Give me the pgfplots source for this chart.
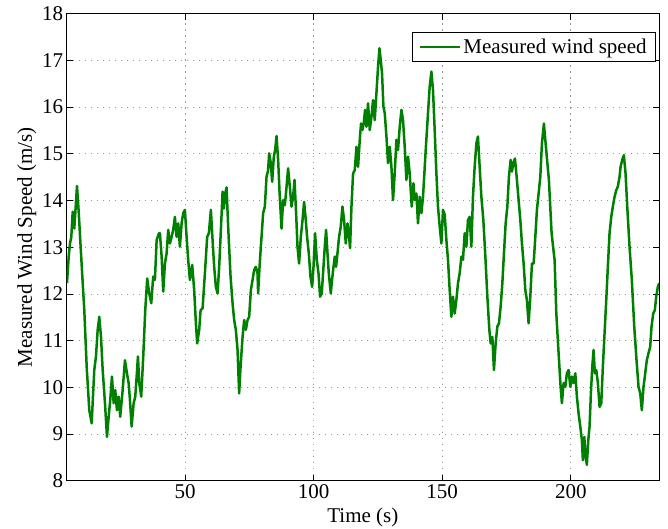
\documentclass[border=0pt]{standalone}
\usepackage{fontspec}
\setmainfont{Liberation Serif}
\usepackage{pgfplots}
\pgfplotsset{compat=1.18}
\definecolor{mgreen}{rgb}{0,0.5,0}
\begin{document}
\begin{tikzpicture}
\useasboundingbox (-66.7pt,-47.3pt) rectangle (601.3pt,480.7pt);
\begin{axis}[
  at={(0,0)}, anchor=south west,
  scale only axis, width=592.3pt, height=467pt,
  xmin=4, xmax=234.3, ymin=8, ymax=18,
  xtick={50,100,150,200}, ytick={8,9,...,18},
  tick align=inside, tick pos=both,
  major tick length=6pt,
  grid=major,
  major grid style={dash pattern=on 1.2pt off 4.8pt, gray!80, line width=0.7pt},
  axis line style={black, line width=0.8pt},
  every tick/.style={black, line width=0.6pt},
  font=\fontsize{21}{25}\selectfont,
  /pgf/number format/assume math mode=true,
  xlabel={Time (s)}, ylabel={Measured Wind Speed (m/s)},
  xlabel style={yshift=-3pt},
  ylabel style={yshift=-1pt},
  legend image code/.code={\draw[#1] (0pt,0pt) -- (40pt,0pt);},
  legend style={at={([xshift=-3pt,yshift=-18.6pt]rel axis cs:1,1)}, anchor=north east,
    draw=black, line width=0.8pt, inner xsep=7pt, inner ysep=4.5pt, font=\fontsize{21}{25}\selectfont,
    cells={anchor=west}},
  legend cell align=left,
]
\addplot[mgreen, line width=2.5pt, line join=round] coordinates {
(4.12,12.23)(4.78,12.8)(5.28,13.08)(5.79,13.22)(6.33,13.76)(6.95,13.4)(7.34,13.73)(8.0,14.31)(8.66,13.76)(9.56,12.87)
(10.84,11.65)(11.77,10.44)(12.78,9.51)(13.71,9.23)(14.72,10.37)(15.38,10.66)(16.04,11.23)(16.67,11.51)(17.33,11.08)(17.99,10.37)
(18.88,9.66)(19.66,8.94)(20.32,9.37)(20.94,9.73)(21.6,10.23)(22.26,9.66)(22.88,9.94)(23.54,9.51)(24.2,9.8)(24.82,9.37)
(25.76,9.94)(26.65,10.58)(27.43,10.3)(28.09,10.09)(28.59,9.73)(29.25,9.16)(30.03,9.66)(30.65,9.8)(31.2,10.23)(31.7,10.66)
(32.21,10.09)(32.98,9.8)(33.76,10.66)(34.54,11.65)(35.31,12.33)(36.09,12.01)(36.87,11.8)(37.64,12.37)(38.3,12.3)(38.97,13.15)
(39.86,13.3)(40.25,13.3)(40.91,12.8)(41.53,12.05)(42.19,12.65)(42.85,12.87)(43.47,13.37)(44.13,13.08)(44.79,13.22)(45.41,13.37)
(46.07,13.65)(46.73,13.22)(47.36,13.51)(48.02,13.01)(48.68,13.51)(49.3,13.73)(49.96,13.8)(50.62,13.22)(51.24,12.73)(51.9,12.3)
(52.8,12.62)(53.57,12.08)(54.23,11.37)(54.74,10.94)(55.52,11.23)(56.06,11.65)(56.84,11.69)(57.73,12.44)(58.62,13.22)(59.28,13.3)
(60.06,13.8)(60.72,13.15)(61.34,12.58)(62.0,12.15)(62.66,12.01)(63.28,12.58)(63.95,13.37)(64.61,14.19)(65.11,13.83)(65.62,14.15)
(66.16,14.28)(66.78,13.44)(67.71,12.37)(68.49,11.8)(69.11,11.44)(69.77,11.23)(70.43,10.8)(71.05,9.87)(71.6,10.44)(72.38,11.08)
(73.0,11.44)(73.66,11.23)(74.32,11.44)(74.94,11.51)(75.6,12.08)(76.26,12.3)(76.88,12.51)(77.54,12.58)(78.2,12.44)(78.43,12.01)
(78.98,12.58)(79.49,13.01)(80.38,13.73)(81.04,13.87)(81.7,14.51)(82.32,14.65)(82.71,15.01)(83.37,14.8)(83.88,14.4)(84.54,14.94)
(85.04,15.08)(85.59,15.38)(86.21,14.87)(86.75,14.19)(87.53,13.4)(88.15,14.01)(88.81,13.9)(89.32,14.19)(90.09,14.69)(90.75,14.3)
(91.41,13.87)(92.03,14.08)(92.58,14.44)(93.2,13.73)(93.74,13.01)(94.36,12.65)(95.03,13.22)(95.69,13.58)(96.31,13.97)(96.85,13.65)
(97.47,13.22)(98.13,12.87)(98.79,12.37)(99.42,12.15)(99.96,12.58)(100.58,13.3)(101.24,12.73)(101.9,12.44)(102.52,11.94)(103.18,12.01)
(103.84,12.58)(104.35,13.01)(104.85,13.37)(105.4,12.87)(105.9,12.44)(106.68,12.01)(107.18,12.3)(107.73,12.58)(108.23,12.8)(108.74,12.58)
(109.28,12.87)(109.9,13.22)(110.56,13.44)(111.22,13.87)(111.85,13.58)(112.51,13.08)(113.17,13.51)(113.67,13.3)(114.18,12.98)(114.72,13.87)
(115.35,14.58)(116.0,14.65)(116.67,15.15)(117.29,14.72)(117.95,15.3)(118.45,15.65)(119.0,15.51)(119.5,15.65)(120.0,15.94)(120.55,15.58)
(121.17,16.08)(121.83,15.51)(122.49,15.79)(123.11,16.15)(123.77,15.72)(124.43,16.3)(125.06,16.87)(125.6,17.26)(126.1,17.01)(126.61,16.72)
(127.15,16.01)(127.66,15.87)(128.32,15.37)(128.94,14.8)(129.6,15.15)(130.26,14.72)(130.88,14.01)(131.54,14.58)(132.2,15.3)(132.82,15.08)
(133.49,15.58)(134.15,15.94)(134.77,15.72)(135.43,15.15)(136.09,14.44)(136.71,14.94)(137.37,14.58)(138.15,13.87)(138.81,14.37)(139.31,14.01)
(139.97,14.15)(140.59,13.51)(141.26,14.08)(141.92,13.73)(142.54,14.08)(143.59,15.08)(144.48,15.87)(145.14,16.44)(145.8,16.76)(146.42,16.37)
(147.08,15.51)(147.74,14.58)(148.36,13.87)(149.03,13.44)(149.69,13.08)(150.31,13.8)(150.97,13.7)(151.63,13.15)(152.25,12.73)(152.91,12.08)
(153.57,11.51)(154.19,11.94)(154.85,11.58)(155.51,11.87)(156.14,12.23)(156.8,12.44)(157.46,12.8)(158.08,12.73)(158.74,13.3)(159.4,13.01)
(160.02,13.58)(160.68,13.65)(161.34,13.01)(161.96,14.08)(162.62,14.72)(163.28,15.22)(163.9,15.37)(164.57,14.72)(165.23,14.08)(166.0,13.58)
(166.78,12.8)(167.56,11.94)(168.33,11.23)(168.84,10.94)(169.5,11.08)(170.12,10.37)(170.78,10.94)(171.44,11.3)(172.07,11.37)(172.73,11.73)
(173.39,12.23)(174.01,12.87)(174.67,13.51)(175.33,13.87)(175.95,14.51)(176.61,14.87)(177.12,14.62)(177.66,14.8)(178.28,14.9)(178.94,14.51)
(179.6,14.08)(180.38,13.58)(181.0,13.08)(181.66,12.65)(182.32,12.08)(182.94,11.87)(183.6,11.37)(184.26,11.94)(184.89,12.65)(185.55,12.65)
(186.21,13.22)(186.83,13.8)(187.49,14.15)(188.15,14.51)(188.77,15.22)(189.55,15.65)(190.21,15.22)(191.49,14.44)(192.54,13.3)(193.71,12.72)
(194.37,11.58)(195.26,10.73)(196.04,10.01)(196.54,9.66)(197.21,10.09)(197.87,10.01)(198.49,10.3)(199.15,10.37)(199.81,10.01)(200.43,10.23)
(201.09,10.09)(201.75,10.3)(202.37,9.8)(203.03,9.44)(203.69,9.16)(204.31,8.87)(204.7,8.44)(205.24,8.94)(205.75,8.51)(206.25,8.34)
(206.8,8.87)(207.3,9.16)(207.81,9.87)(208.35,10.44)(208.86,10.8)(209.36,10.3)(209.91,10.37)(210.53,10.09)(211.19,9.58)(211.85,9.66)
(212.47,10.44)(213.13,11.16)(213.79,11.87)(214.41,12.58)(215.07,13.3)(215.73,13.65)(216.36,13.87)(217.02,14.08)(217.68,14.22)(218.3,14.3)
(218.96,14.51)(219.35,14.72)(220.01,14.87)(220.63,14.97)(221.29,14.58)(221.95,13.87)(222.84,13.01)(223.73,12.3)(224.67,11.3)(225.56,10.58)
(226.34,10.01)(227.0,9.87)(227.62,9.51)(228.28,10.01)(228.94,10.3)(229.56,10.58)(230.22,10.73)(230.88,10.87)(231.39,11.3)(232.05,11.58)
(232.67,11.65)(233.22,11.94)(233.84,12.15)(234.38,12.23)
};
\addlegendentry{Measured wind speed}
\end{axis}
\end{tikzpicture}
\end{document}
